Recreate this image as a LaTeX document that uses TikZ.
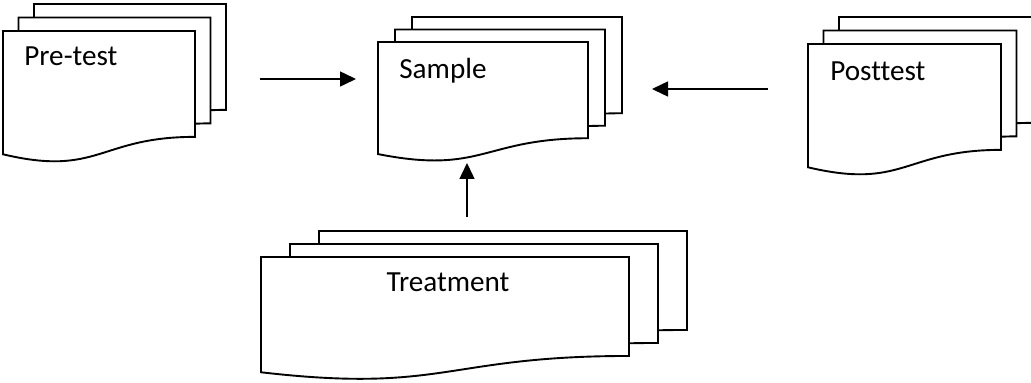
\documentclass[tikz,border=0pt]{standalone}
\usepackage{fontspec}
\setmainfont{Carlito}[Ligatures=NoCommon]
\usetikzlibrary{arrows.meta}
\tikzset{
  sheet/.style={draw=black, fill=white, line width=0.38mm},
  stacklabel/.style={inner sep=0pt, anchor=base west, font=\fontsize{16.6}{19}\selectfont},
  flow/.style={line width=0.3mm, -{Triangle[length=3.2mm,width=3mm]}}
}
% one sheet: top left corner (#1,#2), width #3, height #4
\def\docsheet(#1,#2)(#3:#4){\draw[sheet] (#1,#2) -- ({#1+#3},#2) -- ({#1+#3},{#2+0.802*#4})
  .. controls ({#1+0.5*#3},{#2+0.802*#4}) and ({#1+0.5*#3},{#2+1.107*#4}) .. (#1,{#2+0.934*#4}) -- cycle;}
% three sheets, back to front, shifted by (#5,#6)
\def\docstack(#1,#2)(#3:#4)(#5,#6){\foreach \k in {2,1,0}{%
  \pgfmathsetmacro\sx{#1+\k*#5}\pgfmathsetmacro\sy{#2-\k*#6}%
  \docsheet(\sx,\sy)(#3:#4)}}

\begin{document}
\begin{tikzpicture}[x=0.02cm, y=-0.02cm]
		%%%%% START %%%%%
		\useasboundingbox (0,0) rectangle (1031,382);
		\clip (0,0) rectangle (1031,382);
		
		\docstack(3,31)(192:132)(15.5,13.5)
		\docstack(378,42)(210:120)(17,12.5)
		\docstack(808,44)(193:132)(15.5,13.5)
		\docstack(261,257)(368:123.4)(29,13)
		
		\node[stacklabel] (pretest) at (24,65) {Pre-test};
		\node[stacklabel] (sample) at (399,78) {Sample};
		\node[stacklabel] (posttest) at (830,80) {Posttest};
		\node[stacklabel, anchor=base] (treatment) at (448,291) {Treatment};
		
		\coordinate (pre-tail) at (260,79);
		\coordinate (sample-west) at (356,79);
		\coordinate (post-tail) at (768,89);
		\coordinate (sample-east) at (652,89);
		\coordinate (treat-tail) at (467,217);
		\coordinate (sample-south) at (467,163);
		
		\draw[flow] (pre-tail) -- (sample-west);
		\draw[flow] (post-tail) -- (sample-east);
		\draw[flow] (treat-tail) -- (sample-south);
		
		%%%%% END %%%%%
\end{tikzpicture}
\end{document}
